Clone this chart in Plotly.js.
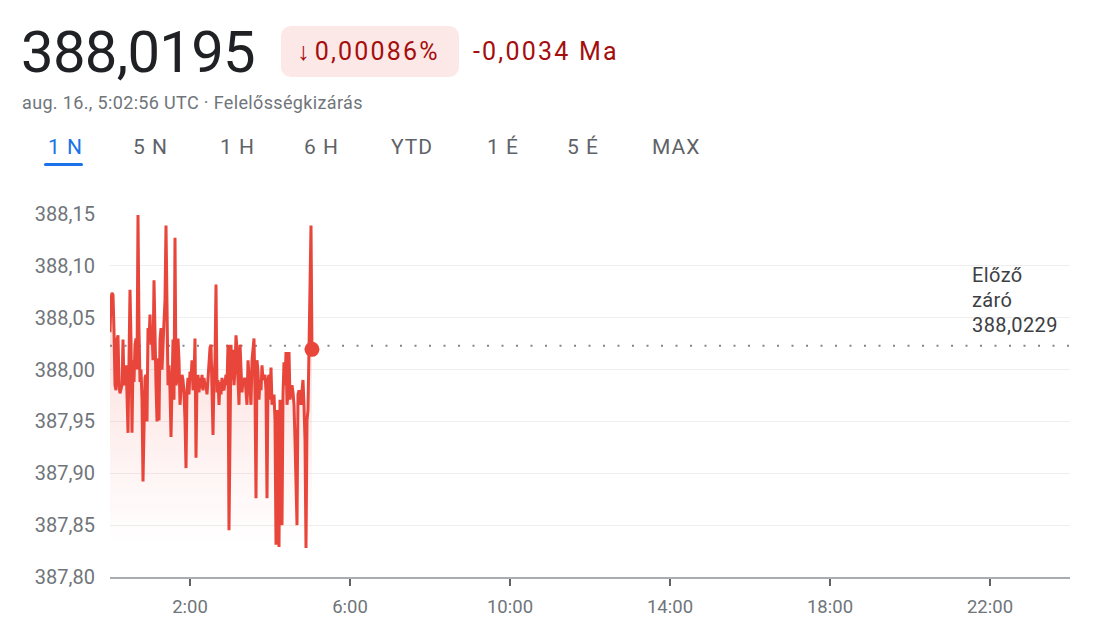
<!DOCTYPE html>
<html>
<head>
<meta charset="utf-8">
<script src="https://cdn.plot.ly/plotly-3.0.1.min.js"></script>
<style>
  html, body { margin: 0; padding: 0; background: #fff; }
  #wrap { position: relative; width: 1110px; height: 624px; overflow: hidden; font-family: Roboto, "Noto Sans", Arial, sans-serif; }
  #chart { position: absolute; left: 0; top: 0; width: 1110px; height: 624px; }
  .ov { position: absolute; white-space: nowrap; z-index: 5; pointer-events: none; }
  #price { left: 21px; top: 18px; font-size: 58px; color: #202124; line-height: 68px; letter-spacing: -0.7px; }
  #chipbox { left: 281px; top: 26px; width: 178px; height: 51px; background: #fce8e6; border-radius: 10px; }
  #chip { left: 297px; top: 36px; font-size: 25px; color: #a50e0e; line-height: 32px; letter-spacing: 2.2px; }
  #chip .arr { margin-right: 3px; }
  #delta { left: 473px; top: 36px; font-size: 25px; color: #a50e0e; line-height: 32px; letter-spacing: 2.2px; }
  #sub { left: 22px; top: 92px; font-size: 18px; color: #70757a; line-height: 22px; letter-spacing: 0.35px; }
  .tab { top: 134px; font-size: 21px; color: #5f6368; line-height: 26px; letter-spacing: 1px; }
  .tab.active { color: #1a73e8; }
  #uline { left: 44px; top: 163px; width: 39px; height: 3px; background: #1a73e8; border-radius: 2px; }
  #prevlbl { left: 972px; top: 263px; font-size: 20px; color: #3c4043; line-height: 25px; white-space: normal; letter-spacing: 0.4px; }
</style>
</head>
<body>
<div id="wrap">
  <div id="chart"></div>
  <div class="ov" id="price">388,0195</div>
  <div class="ov" id="chipbox"></div>
  <div class="ov" id="chip"><span class="arr">↓</span>0,00086%</div>
  <div class="ov" id="delta">-0,0034 Ma</div>
  <div class="ov" id="sub">aug. 16., 5:02:56 UTC · Felelősségkizárás</div>
  <div id="tabs"></div>
  <div class="ov" id="uline"></div>
  <div class="ov" id="prevlbl">Előző<br>záró<br>388,0229</div>
</div>
<script>
// ---- data ----
const day = '2024-08-16';
const times = [
 '0:00:00','0:01:30','0:03:00','0:04:30','0:06:00','0:07:30','0:09:00','0:10:30','0:12:00','0:13:30',
 '0:15:00','0:16:30','0:18:00','0:19:30','0:21:00','0:22:30','0:24:00','0:25:30','0:27:00','0:28:30',
 '0:30:00','0:31:30','0:33:00','0:34:30','0:36:00','0:37:30','0:39:00','0:40:30','0:42:00','0:43:30',
 '0:45:00','0:46:30','0:48:00','0:49:30','0:51:00','0:52:30','0:54:00','0:55:30','0:57:00','0:58:30',
 '1:00:00','1:01:30','1:03:00','1:04:30','1:06:00','1:07:30','1:09:00','1:10:30','1:12:00','1:13:30',
 '1:15:00','1:16:30','1:18:00','1:19:30','1:21:00','1:22:30','1:24:00','1:25:30','1:27:00','1:28:30',
 '1:30:00','1:31:30','1:33:00','1:34:30','1:36:00','1:37:30','1:39:00','1:40:30','1:42:00','1:43:30',
 '1:45:00','1:46:30','1:48:00','1:49:30','1:51:00','1:52:30','1:54:00','1:55:30','1:57:00','1:58:30',
 '2:00:00','2:01:30','2:03:00','2:04:30','2:06:00','2:07:30','2:09:00','2:10:30','2:12:00','2:13:30',
 '2:15:00','2:16:30','2:18:00','2:19:30','2:21:00','2:22:30','2:24:00','2:25:30','2:27:00','2:28:30',
 '2:30:00','2:31:30','2:33:00','2:34:30','2:36:00','2:37:30','2:39:00','2:40:30','2:42:00','2:43:30',
 '2:45:00','2:46:30','2:48:00','2:49:30','2:51:00','2:52:30','2:54:00','2:55:30','2:57:00','2:58:30',
 '3:00:00','3:01:30','3:03:00','3:04:30','3:06:00','3:07:30','3:09:00','3:10:30','3:12:00','3:13:30',
 '3:15:00','3:16:30','3:18:00','3:19:30','3:21:00','3:22:30','3:24:00','3:25:30','3:27:00','3:28:30',
 '3:30:00','3:31:30','3:33:00','3:34:30','3:36:00','3:37:30','3:39:00','3:40:30','3:42:00','3:43:30',
 '3:45:00','3:46:30','3:48:00','3:49:30','3:51:00','3:52:30','3:54:00','3:55:30','3:57:00','3:58:30',
 '4:00:00','4:01:30','4:03:00','4:04:30','4:06:00','4:07:30','4:09:00','4:10:30','4:12:00','4:13:30',
 '4:15:00','4:16:30','4:18:00','4:19:30','4:21:00','4:22:30','4:24:00','4:25:30','4:27:00','4:28:30',
 '4:30:00','4:31:30','4:33:00','4:34:30','4:36:00','4:37:30','4:39:00','4:40:30','4:42:00','4:43:30',
 '4:45:00','4:46:30','4:48:00','4:49:30','4:51:00','4:52:30','4:54:00','4:55:30','4:57:00','4:58:30',
 '5:00:00','5:01:30','5:02:56'
];
const prices = [
 388.036,388.067,388.074,388.072,388.038,387.985,387.980,388.029,388.033,387.985,
 387.977,387.982,387.985,388.029,387.985,387.990,388.004,387.976,387.939,388.009,
 388.077,388.029,387.939,388.009,387.988,388.024,388.030,388.000,388.149,388.038,
 387.988,388.000,387.971,387.892,387.951,387.992,387.995,387.950,388.040,388.029,
 388.053,388.024,388.038,388.009,388.086,388.024,387.985,387.950,388.011,387.951,
 388.029,388.040,388.000,388.024,388.056,388.067,388.139,388.033,387.985,388.004,
 387.980,387.935,387.990,388.029,387.971,388.127,387.985,387.990,388.030,388.009,
 387.966,387.985,387.995,387.990,387.978,387.951,387.905,387.980,387.992,387.976,
 387.998,387.990,388.009,387.980,387.992,388.030,387.915,387.990,387.995,387.978,
 387.992,387.982,387.995,387.980,387.992,387.985,387.985,387.976,387.990,388.000,
 388.021,388.024,387.990,387.937,387.992,388.009,388.082,387.978,387.990,387.966,
 387.988,387.976,387.992,387.982,387.980,387.990,387.995,387.985,388.024,387.845,
 387.980,388.024,387.990,388.019,387.985,388.000,388.033,388.019,387.990,387.966,
 388.024,387.995,387.978,387.990,387.990,387.992,387.980,387.966,388.009,387.990,
 387.971,387.966,388.009,388.019,388.030,387.976,387.876,388.009,387.998,387.971,
 387.990,387.980,388.004,387.990,387.992,387.995,387.980,387.876,387.990,387.995,
 387.971,388.002,387.966,387.971,387.976,387.951,387.831,387.961,387.942,387.829,
 387.971,387.903,387.850,387.976,388.007,387.985,388.017,387.966,387.976,388.017,
 387.971,387.980,387.985,387.978,387.966,387.932,387.884,387.850,387.976,387.980,
 387.976,387.966,387.980,387.990,387.966,387.932,387.828,387.951,387.961,388.024,
 388.067,388.139,388.0195
];
const previousClose = 388.0229;
const yTicks = [387.80, 387.85, 387.90, 387.95, 388.00, 388.05, 388.10, 388.15];
const yTickLabels = ['387,80','387,85','387,90','387,95','388,00','388,05','388,10','388,15'];
const xTickLabels = ['2:00','6:00','10:00','14:00','18:00','22:00'];
const tabLabels = ['1 N','5 N','1 H','6 H','YTD','1 É','5 É','MAX'];
const tabLefts = [48, 133, 220, 304, 391, 487, 567, 652];

// ---- tabs ----
const tabsEl = document.getElementById('tabs');
tabLabels.forEach((t, i) => {
  const d = document.createElement('div');
  d.className = 'ov tab' + (i === 0 ? ' active' : '');
  d.style.left = tabLefts[i] + 'px';
  d.textContent = t;
  tabsEl.appendChild(d);
});

const pad = s => { const p = s.split(':'); return (p[0].length < 2 ? '0' + p[0] : p[0]) + ':' + p[1] + ':' + p[2]; };
const xs = times.map(t => day + ' ' + pad(t));
const xTickVals = xTickLabels.map(t => day + ' ' + pad(t + ':00'));

const lineColor = '#e8453b';

const traces = [
  {
    type: 'scatter', mode: 'lines', x: xs, y: prices,
    line: { color: lineColor, width: 3, shape: 'linear' },
    fill: 'tozeroy',
    fillgradient: { type: 'vertical', start: 387.83, stop: 388.05,
      colorscale: [[0, 'rgba(234,67,53,0)'], [1, 'rgba(234,67,53,0.17)']] },
    hoverinfo: 'skip', showlegend: false
  },
  {
    type: 'scatter', mode: 'markers',
    x: [xs[xs.length - 1]], y: [prices[prices.length - 1]],
    marker: { color: lineColor, size: 15 },
    hoverinfo: 'skip', showlegend: false
  }
];

const layout = {
  width: 1110, height: 624,
  margin: { l: 110, r: 40, t: 214, b: 47 },
  paper_bgcolor: '#ffffff', plot_bgcolor: '#ffffff',
  font: { family: 'Roboto, "Noto Sans", Arial, sans-serif', color: '#70757a' },
  showlegend: false,
  xaxis: {
    type: 'date',
    range: [day + ' 00:00:00', '2024-08-17 00:00:00'],
    tickvals: xTickVals, ticktext: xTickLabels,
    ticks: 'outside', ticklen: 7, tickwidth: 2, tickcolor: '#5f6368',
    ticklabelstandoff: 5,
    showline: true, linecolor: '#a8acb0', linewidth: 2,
    showgrid: false, zeroline: false,
    tickfont: { size: 18.5, color: '#70757a' },
    fixedrange: true
  },
  yaxis: {
    range: [387.80, 388.15],
    tickvals: yTicks, ticktext: yTickLabels,
    ticks: '', showline: false, zeroline: false,
    showgrid: true, gridcolor: '#eeeeee', gridwidth: 1,
    tickfont: { size: 20, color: '#70757a' },
    ticklabelstandoff: 14,
    fixedrange: true
  },
  shapes: [
    { type: 'line', xref: 'paper', x0: 0, x1: 1, yref: 'y', y0: previousClose, y1: previousClose,
      line: { color: '#80868b', width: 2, dash: '2px,12.5px' }, layer: 'between' }
  ]
};

Plotly.newPlot('chart', traces, layout, { displayModeBar: false, staticPlot: true });
</script>
</body>
</html>
